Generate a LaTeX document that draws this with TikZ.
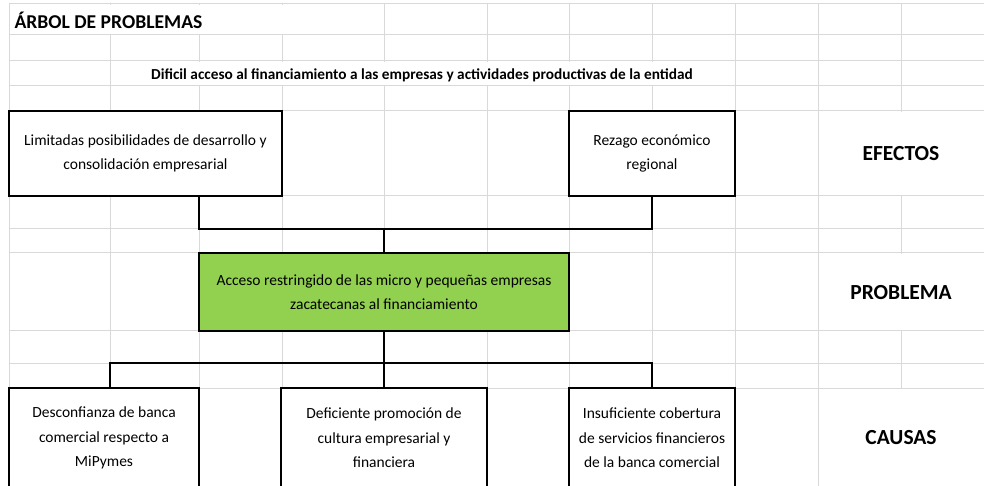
\documentclass[tikz,border=0pt]{standalone}
\usepackage{fontspec}
\setmainfont{Carlito}
\usetikzlibrary{calc}

\definecolor{verde}{RGB}{146,208,80}
\definecolor{rejilla}{RGB}{217,217,217}

\begin{document}
\begin{tikzpicture}[x=1bp,y=-1bp,
    caja/.style={draw,line width=1.5bp,fill=white,inner sep=0pt,align=center,
      font=\fontsize{15.5bp}{24.5bp}\selectfont},
    enlace/.style={line width=1.5bp},
    seccion/.style={font=\fontsize{21.5bp}{25bp}\selectfont\bfseries}]
    \useasboundingbox (0,0) rectangle (984,486);
    \clip (0,0) rectangle (984,486);
    % cuadricula de la hoja
    \foreach \y in {4,35,61,86,111,196,229,253,331,363,388}
      \draw[rejilla,line width=1bp] (9,\y) -- (984,\y);
    \foreach \x in {9,110,199,282,384,487,569,652,735,818,901}
      \draw[rejilla,line width=1bp] (\x,4) -- (\x,486);
    \fill[white] (100,4.6) rectangle (292,34.4);
    \fill[white] (190,61.6) rectangle (660,85.4);
    \foreach \y/\h in {111/196,253/331,388/487}
      \fill[white] (819,\y+0.6) rectangle (984,\h-0.6);

    \node[anchor=base west,font=\fontsize{19.6bp}{23bp}\selectfont\bfseries] (titulo)
      at (11,29) {ÁRBOL DE PROBLEMAS};
    \node[anchor=base,font=\fontsize{15.3bp}{18bp}\selectfont\bfseries] (fin)
      at (422,80) {Dificil acceso al financiamiento a las empresas y actividades productivas de la entidad};

    \node[caja,minimum width=273bp,minimum height=85bp] (limitadas) at (145.5,153.5)
      {Limitadas posibilidades de desarrollo y\\consolidación empresarial};
    \node[caja,minimum width=166bp,minimum height=85bp] (rezago) at (652,153.5)
      {Rezago económico\\regional};
    \node[caja,fill=verde,minimum width=370bp,minimum height=78bp] (problema) at (384,292)
      {Acceso restringido de las micro y pequeñas empresas\\zacatecanas al financiamiento};
    \node[caja,minimum width=190bp,minimum height=100bp] (desconfianza) at (104,438)
      {Desconfianza de banca\\comercial respecto a\\MiPymes};
    \node[caja,minimum width=206bp,minimum height=100bp] (deficiente) at (384,438)
      {Deficiente promoción de\\cultura empresarial y\\financiera};
    \node[caja,minimum width=166bp,minimum height=100bp] (insuficiente) at (652,438)
      {Insuficiente cobertura\\de servicios financieros\\de la banca comercial};

    \node[seccion] (efectos) at (901,154) {EFECTOS};
    \node[seccion] (nivelproblema) at (901,293) {PROBLEMA};
    \node[seccion] (causas) at (901,438) {CAUSAS};

    \coordinate (nudoefectos) at (199,229);
    \coordinate (nudocausas) at (110,363);
    \draw[enlace] (limitadas.south -| nudoefectos) -- (nudoefectos)
      -- (nudoefectos -| rezago.south) -- (rezago.south);
    \draw[enlace] (problema.north) -- (problema.north |- nudoefectos);
    \draw[enlace] (nudocausas |- desconfianza.north) -- (nudocausas)
      -- (nudocausas -| insuficiente.north) -- (insuficiente.north);
    \draw[enlace] (problema.south) -- (deficiente.north);
  \end{tikzpicture}
\end{document}
